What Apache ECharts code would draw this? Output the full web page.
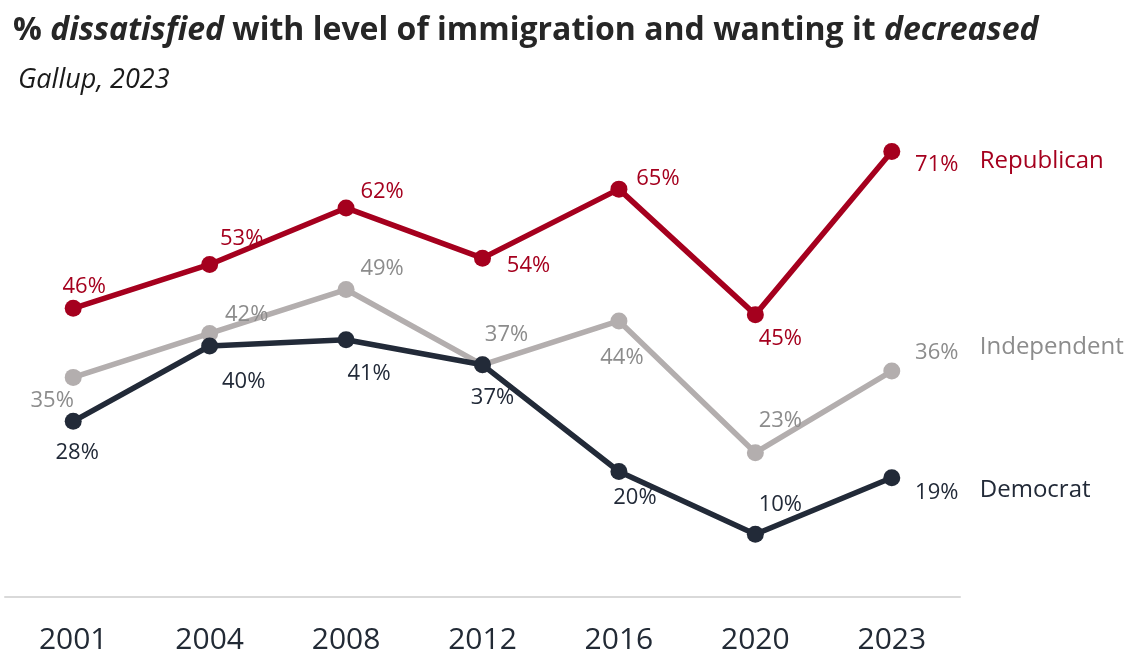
<!DOCTYPE html>
<html>
<head>
<meta charset="utf-8">
<script src="https://cdn.jsdelivr.net/npm/echarts@6/dist/echarts.min.js"></script>
<style>html,body{margin:0;padding:0;background:#fff}#c{width:1130px;height:657px}</style>
</head>
<body>
<div id="c"></div>
<script>
var years = ['2001','2004','2008','2012','2016','2020','2023'];
var republican = [46, 53, 62, 54, 65, 45, 71];
var independent = [35, 42, 49, 37, 44, 23, 36];
var democrat = [28, 40, 41, 37, 20, 10, 19];
var seriesNames = ['Republican', 'Independent', 'Democrat'];

// label offsets (styling only)
var repOff = [[11,-22],[32,-26],[36,-16],[46,8],[39,-10],[25,24],[45,13]];
var indOff = [[-21,23],[37,-19],[36,-21],[24,-30],[3,37],[25,-32],[45,-18]];
var demOff = [[4,31],[34,36],[23,34],[10,33],[16,26],[25,-30],[45,15]];

var FONT = '"Open Sans", "Noto Sans", sans-serif';

function build(vals, offs) {
  return vals.map(function (v, i) {
    return { value: v, label: { offset: offs[i] } };
  });
}

function mkSeries(name, vals, offs, lineColor, labelColor, endOff, z) {
  return {
    name: name,
    type: 'line',
    data: build(vals, offs),
    symbol: 'circle',
    symbolSize: 17,
    lineStyle: { color: lineColor, width: 5.5 },
    itemStyle: { color: lineColor },
    z: z,
    label: {
      show: true,
      position: 'inside',
      formatter: '{c}%',
      color: labelColor,
      fontSize: 22,
      fontFamily: FONT
    },
    endLabel: {
      show: true,
      formatter: name,
      color: labelColor,
      fontSize: 24,
      fontFamily: FONT,
      position: 'right',
      distance: 0,
      offset: endOff
    },
    emphasis: { disabled: true },
    animation: false
  };
}

var chart = echarts.init(document.getElementById('c'));
chart.setOption({
  backgroundColor: '#fff',
  animation: false,
  title: [
    {
      left: 8, top: 10,
      text: '{b|% }{bi|dissatisfied}{b| with level of immigration and wanting it }{bi|decreased}',
      textStyle: {
        rich: {
          b: { fontSize: 32, fontWeight: 'bold', color: '#262626', fontFamily: FONT },
          bi: { fontSize: 32, fontWeight: 'bold', fontStyle: 'italic', color: '#262626', fontFamily: FONT }
        }
      }
    },
    {
      left: 13, top: 62,
      text: 'Gallup, 2023',
      textStyle: { fontSize: 27, fontStyle: 'italic', fontWeight: 'normal', color: '#1a1a1a', fontFamily: FONT }
    }
  ],
  grid: { left: 5, right: 170, top: 95, bottom: 60, containLabel: false },
  xAxis: {
    type: 'category',
    data: years,
    boundaryGap: true,
    axisLine: { show: true, lineStyle: { color: '#d9d9d9', width: 2 } },
    axisTick: { show: false },
    axisLabel: { fontSize: 30, color: '#222a35', fontFamily: FONT, margin: 28 },
    splitLine: { show: false }
  },
  yAxis: {
    type: 'value', min: 0, max: 80, interval: 10,
    show: false,
    splitLine: { show: false }
  },
  series: [
    mkSeries(seriesNames[1], independent, indOff, '#b3aeae', '#8c8c8c', [88, -24], 2),
    mkSeries(seriesNames[0], republican, repOff, '#a5001e', '#a5001e', [88, 10], 3),
    mkSeries(seriesNames[2], democrat, demOff, '#222a38', '#222a38', [88, 12], 4)
  ]
});
</script>
</body>
</html>
